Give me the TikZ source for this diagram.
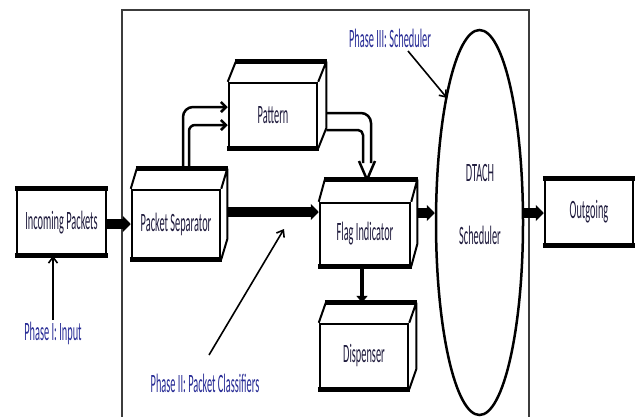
\documentclass[tikz,border=0pt]{standalone}
\usepackage{fontspec}
\setmainfont{Carlito}[FakeStretch=0.39]
\usetikzlibrary{arrows.meta,calc,shapes.geometric}
\definecolor{phaseblue}{RGB}{40,44,150}
\definecolor{txt}{RGB}{32,28,62}
\definecolor{framecol}{RGB}{60,60,60}
\newcommand\cubefaces[3]{%
  \coordinate (#1-bnw) at ($(#1.north west)+(#2,-#3)$);
  \coordinate (#1-bne) at ($(#1.north east)+(#2,-#3)$);
  \coordinate (#1-bse) at ($(#1.south east)+(#2,-#3)$);
  \draw[edge] (#1.north west) -- (#1-bnw);
  \draw[edge] (#1.north east) -- (#1-bne) -- (#1-bse) -- (#1.south east);
  \draw[heavy] (#1-bnw) -- (#1-bne);
  \draw[heavy] (#1.south west) -- (#1.south east);
}
\newcommand\flatbox[1]{%
  \draw[heavy] (#1.north west) -- (#1.north east);
  \draw[heavy] (#1.south west) -- (#1.south east);
}
\begin{document}
\begin{tikzpicture}[x=1pt,y=-1pt,
  lbl/.style={font=\fontsize{26.5}{28}\selectfont},
  face/.style={draw, line width=2.5pt, inner sep=0pt, lbl, text=txt},
  edge/.style={line width=2pt, line join=round},
  heavy/.style={line width=5pt, shorten <=-1pt, shorten >=-1pt},
  bigarrow/.style={line width=10pt, -{Triangle[length=8pt,width=16pt]}},
  midarrow/.style={line width=4pt, -{Triangle[length=7pt,width=11pt]}},
  dbl/.style={line width=2.5pt, -{Straight Barb[length=5pt,width=10pt]}},
  dline/.style={line width=2.5pt, line join=round},
  phasearrow/.style={line width=1.6pt, -{Straight Barb[length=6pt,width=9pt]}},
  phase/.style={lbl, text=phaseblue, inner sep=1pt}]
\useasboundingbox (0,0) rectangle (636,416);
\fill[white] (0,0) rectangle (636,416);
% frame
\draw[framecol, line width=1.2pt] (122,417) -- (122,10) -- (529,10) -- (529,417);

% boxes
\node[face, minimum width=89pt, minimum height=64.5pt] (IN) at (61.5,222.25) {Incoming Packets};
\node[face, minimum width=88pt, minimum height=65pt] (OUT) at (589,212) {Outgoing};
\flatbox{IN}
\flatbox{OUT}

\node[face, minimum width=88pt, minimum height=68pt] (PS) at (176,224) {Packet Separator};
\node[face, minimum width=88pt, minimum height=64pt] (PT) at (273,115) {Pattern};
\node[face, minimum width=90pt, minimum height=62pt] (FI) at (365,234) {Flag Indicator};
\node[face, minimum width=88pt, minimum height=64pt] (DS) at (364,356) {Dispenser};
\cubefaces{PS}{6}{20}
\cubefaces{PT}{8}{20}
\cubefaces{FI}{6}{22}
\cubefaces{DS}{7}{20}

% scheduler ellipse
\node[ellipse, draw, line width=2.5pt, inner sep=0pt, minimum width=87pt, minimum height=385pt] (SC) at (479.5,222.5) {};
\node[lbl, text=txt] (SCa) at (480,173) {DTACH};
\node[lbl, text=txt] (SCb) at (480,235) {Scheduler};

% thick flow arrows
\coordinate (rowA) at (0,224);
\coordinate (rowB) at (0,212);
\coordinate (rowC) at (0,213);
\draw[bigarrow] (IN.east |- rowA) -- (PS.west |- rowA);
\draw[bigarrow] (PS-bse |- rowB) -- (FI.west |- rowB);
\draw[bigarrow] (FI-bse |- rowC) -- (SC.west |- rowC);
\draw[bigarrow] (SC.east |- rowC) -- (OUT.west |- rowC);
\draw[midarrow] (362,0 |- FI.south) -- (362,0 |- DS-bnw);

% double arrow PS -> Pattern
\draw[dbl, rounded corners=10pt] (183,0 |- PS-bnw) -- (183,107) -- (PT.west |- 0,107);
\draw[dbl, rounded corners=6pt] (189,0 |- PS-bnw) -- (189,125) -- (PT.west |- 0,125);

% double arrow Pattern -> Flag Indicator
\draw[dline, rounded corners=10pt] (PT-bne |- 0,113) -- (371,113) -- (371,163);
\draw[dline, rounded corners=5pt] (PT-bne |- 0,130) -- (363,130) -- (363,163);
\draw[dline] (359,161) -- (367,0 |- FI-bnw) -- (375,161);

% phase labels
\node[phase] (L1) at (53,333) {Phase I: Input};
\node[phase] (L2) at (205,383) {Phase II: Packet Classifiers};
\node[phase] (L3) at (390,38) {Phase III: Scheduler};
\coordinate (p1s) at (53,320);
\coordinate (p2s) at (209,355);
\coordinate (p2e) at (284,229);
\coordinate (p3s) at (408,51);
\coordinate (p3e) at (447,98);
\draw[phasearrow] (p1s) -- (53,0 |- IN.south);
\draw[phasearrow] (p2s) -- (p2e);
\draw[phasearrow] (p3s) -- (p3e);
\end{tikzpicture}
\end{document}
